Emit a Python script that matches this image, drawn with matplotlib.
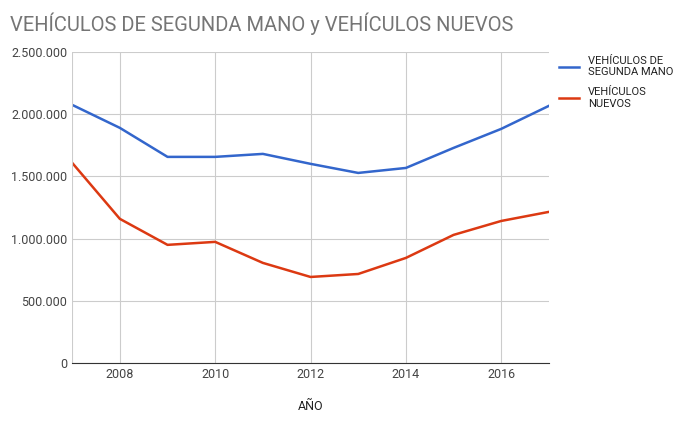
import matplotlib
matplotlib.use("Agg")
import matplotlib.pyplot as plt
from matplotlib.ticker import FuncFormatter

years = list(range(2007, 2018))
segunda_mano = [2074000, 1889000, 1656000, 1656000, 1680000, 1600000, 1527000, 1567000, 1728000, 1881000, 2066000]
nuevos = [1608000, 1158000, 949000, 973000, 804000, 691000, 715000, 844000, 1029000, 1141000, 1214000]

plt.rcParams["font.family"] = "Roboto"
fig = plt.figure(figsize=(6.81, 4.25), dpi=100)
ax = fig.add_axes([0.106, 0.146, 0.700, 0.732])

ax.plot(years, segunda_mano, color="#3366cc", lw=1.8, label="VEHÍCULOS DE\nSEGUNDA MANO")
ax.plot(years, nuevos, color="#dc3912", lw=1.8, label="VEHÍCULOS\nNUEVOS")

ax.set_xlim(2007, 2017)
ax.set_ylim(0, 2500000)
ax.set_xticks([2008, 2010, 2012, 2014, 2016])
ax.set_yticks(range(0, 2500001, 500000))
ax.yaxis.set_major_formatter(FuncFormatter(lambda v, p: f"{int(v):,}".replace(",", ".")))
ax.grid(True, color="#cccccc", lw=0.8)
ax.axvline(2007, color="#cccccc", lw=0.8)
ax.tick_params(length=0, labelsize=9, colors="#444444")
for s in ["top", "right", "left"]:
    ax.spines[s].set_visible(False)
ax.spines["bottom"].set_color("#333333")
ax.set_xlabel("AÑO", fontsize=9, color="#222222", labelpad=14)

fig.text(0.015, 0.945, "VEHÍCULOS DE SEGUNDA MANO y VEHÍCULOS NUEVOS", fontsize=14.5, color="#757575", va="center")
ax.legend(loc="upper left", bbox_to_anchor=(1.0, 1.02), frameon=False, fontsize=8,
          labelcolor="#222222", handlelength=1.8, labelspacing=0.9)

fig.savefig("out.png", dpi=100)
